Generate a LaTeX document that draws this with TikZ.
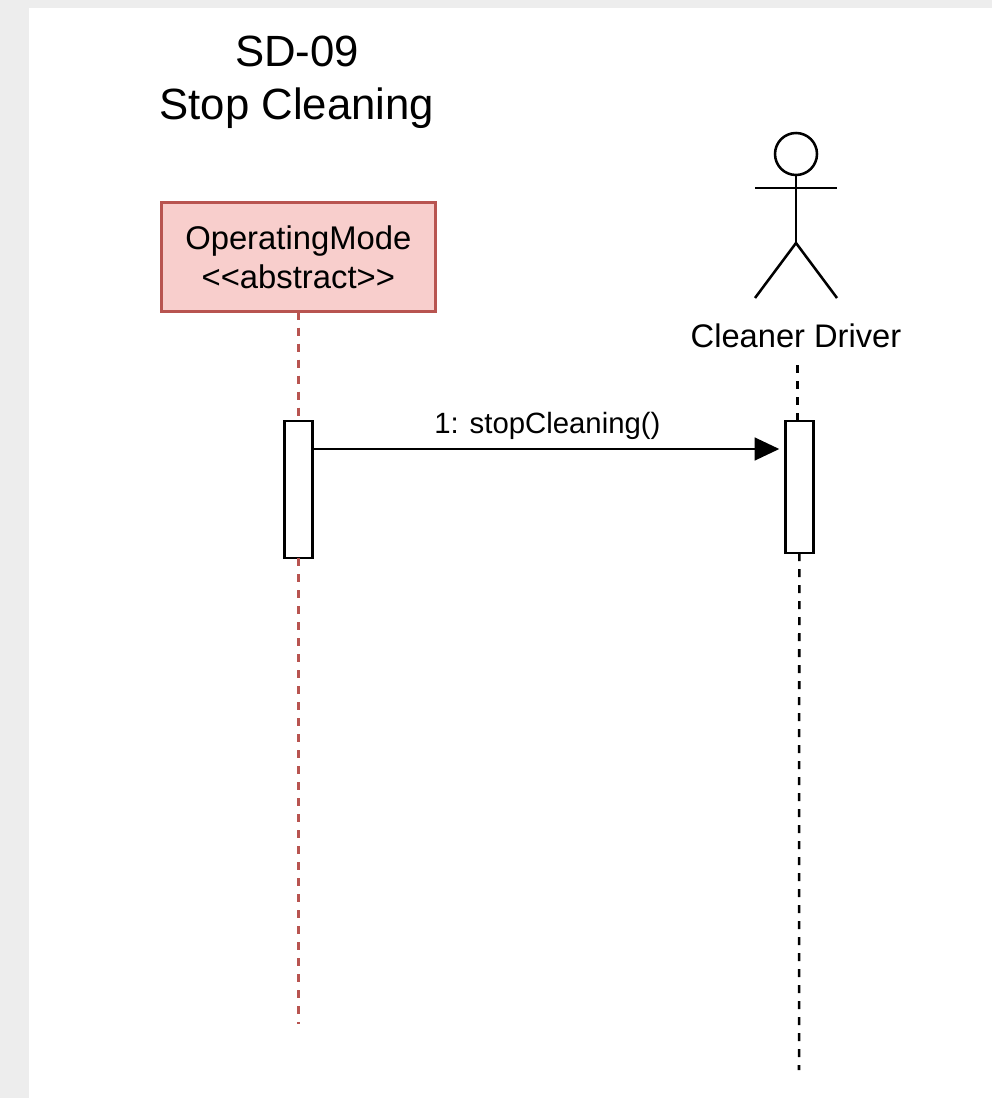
\documentclass[tikz,border=0pt]{standalone}
\usepackage{fontspec}
\setmainfont{Liberation Sans}
\usetikzlibrary{positioning,arrows.meta}

\definecolor{pagegray}{HTML}{EDEDED}
\definecolor{modefill}{HTML}{F8CECC}
\definecolor{modeline}{HTML}{B85450}

\tikzset{
  lifeline/.style={line width=1.9pt, dash pattern=on 6pt off 6pt},
  activation/.style={draw, fill=white, line width=1.9pt, minimum width=21pt, inner sep=0pt, outer sep=0pt},
  stick/.style={line width=1.9pt},
  message/.style={line width=1.9pt, -{Triangle[length=18.5pt, width=17pt]}, shorten >=4.5pt}
}

\begin{document}
\begin{tikzpicture}[x=.75pt, y=-.75pt]
  \useasboundingbox (0,0) rectangle (992,1098);
  \fill[pagegray] (0,0) rectangle (992,1098);
  \fill[white] (29,8) rectangle (992,1098);

  \node[align=center, font=\fontsize{32.8pt}{39.8pt}\selectfont] (title) at (297,82.5) {SD-09\\Stop Cleaning};

  \node[draw=modeline, fill=modefill, line width=1.9pt, align=center, minimum width=205.5pt, minimum height=82pt,
        inner sep=0pt, outer sep=0pt, font=\fontsize{24.6pt}{29.3pt}\selectfont] (mode) at (298.3,257) {OperatingMode\\<{}<abstract>{}>};
  \node[activation, minimum height=102.75pt, below=82pt of mode] (modebar) {};
  \node[activation, minimum height=99pt, right=354.75pt of modebar.north east, anchor=north west] (driverbar) {};
  \coordinate[below=349.5pt of modebar.south] (modeend);

  % actor
  \node[draw, circle, line width=1.9pt, minimum size=31.5pt, inner sep=0pt, outer sep=0pt] (head) at (796,154) {};
  \coordinate[below=51pt of head.south] (hip);
  \coordinate[below=9.75pt of head.south] (neck);
  \coordinate[left=30.75pt of neck] (armL);
  \coordinate[right=30.75pt of neck] (armR);
  \coordinate[below left=41.25pt and 30.75pt of hip] (footL);
  \coordinate[below right=41.25pt and 30.75pt of hip] (footR);
  \draw[stick] (head.south) -- (hip);
  \draw[stick] (armL) -- (armR);
  \draw[stick] (footL) -- (hip) -- (footR);
  \node[font=\fontsize{24.5pt}{29pt}\selectfont] (driver) at (796,336) {Cleaner Driver};

  \coordinate (drivertop) at (797.5,365);
  \coordinate (driverend) at (799,1070);
  \draw[lifeline, modeline] (mode.south) -- (modebar.north);
  \draw[lifeline, modeline] (modebar.south) -- (modeend);
  \draw[lifeline] (drivertop) -- (drivertop |- driverbar.north);
  \draw[lifeline] (driverbar.south) -- (driverend);

  \coordinate (msgstart) at (modebar.east |- 0,449);
  \draw[message] (msgstart) -- (driverbar.west |- msgstart)
        node [pos=0.5, xshift=-1pt, above=6pt, font=\fontsize{22pt}{26pt}\selectfont, inner sep=0pt] (msg) {1: stopCleaning()};
\end{tikzpicture}
\end{document}
